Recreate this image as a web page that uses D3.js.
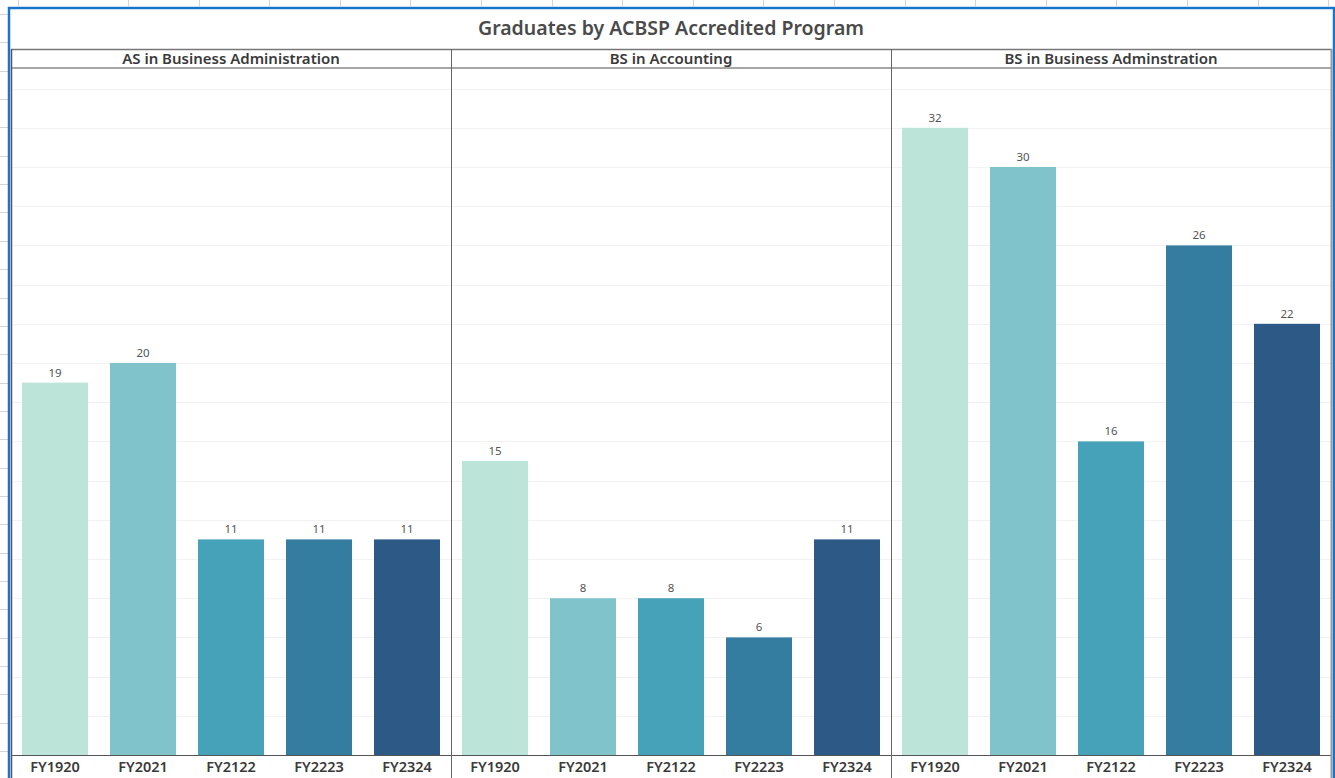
<!DOCTYPE html>
<html>
<head>
<meta charset="utf-8">
<script src="https://cdn.jsdelivr.net/npm/d3@7"></script>
<style>
  body { margin: 0; background: #fff; }
  svg { display: block; }
  text { font-family: "Noto Sans", "Open Sans", sans-serif; }
</style>
</head>
<body>
<script>
// data
var programs = ["AS in Business Administration", "BS in Accounting", "BS in Business Adminstration"];
var years = ["FY1920", "FY2021", "FY2122", "FY2223", "FY2324"];
var asBusiness = [19, 20, 11, 11, 11];
var bsAccounting = [15, 8, 8, 6, 11];
var bsBusiness = [32, 30, 16, 26, 22];
var yearColors = ["#bce4d8", "#81c3cb", "#45a2b9", "#347da0", "#2c5985"];
var gridTicks = [2, 4, 6, 8, 10, 12, 14, 16, 18, 20, 22, 24, 26, 28, 30, 32, 34];

var seriesByProgram = [asBusiness, bsAccounting, bsBusiness];

var W = 1335, H = 778;
var svg = d3.select("body").append("svg")
    .attr("width", W)
    .attr("height", H);

svg.append("rect").attr("width", W).attr("height", H).attr("fill", "#fff");

// spreadsheet bits behind the object frame
var colLines = [18];
for (var cx = 128; cx < W; cx += 70.6) colLines.push(Math.round(cx));
svg.selectAll("line.col").data(colLines).enter().append("line")
    .attr("x1", function(d){ return d + 0.5; })
    .attr("x2", function(d){ return d + 0.5; })
    .attr("y1", 0).attr("y2", 6)
    .attr("stroke", "#d4d4d4");
var rowLines = [];
for (var ry = 14; ry < H; ry += 28.35) rowLines.push(Math.round(ry));
svg.selectAll("line.row").data(rowLines).enter().append("line")
    .attr("x1", 0).attr("x2", 8)
    .attr("y1", function(d){ return d + 0.5; })
    .attr("y2", function(d){ return d + 0.5; })
    .attr("stroke", "#d4d4d4");

// scales
var panelX = d3.scaleBand().domain(programs).range([11, 1331]);
var x = d3.scaleBand().domain(years).range([0, panelX.bandwidth()])
    .paddingInner(0.25).paddingOuter(0.125);
var y = d3.scaleLinear().domain([0, 35]).range([755, 69]);

// gridlines
svg.selectAll("line.grid").data(gridTicks).enter().append("line")
    .attr("x1", 12).attr("x2", 1331)
    .attr("y1", function(d){ return Math.round(y(d)) + 0.5; })
    .attr("y2", function(d){ return Math.round(y(d)) + 0.5; })
    .attr("stroke", "#f2f2f2");

// title
svg.append("text")
    .attr("x", 671).attr("y", 35)
    .attr("text-anchor", "middle")
    .attr("font-size", 19.5)
    .attr("font-weight", 600)
    .attr("fill", "#4a4a4a")
    .text("Graduates by ACBSP Accredited Program");

// panels
programs.forEach(function(p, pi){
    var g = svg.append("g").attr("transform", "translate(" + panelX(p) + ",0)");
    var vals = seriesByProgram[pi];

    g.selectAll("rect")
        .data(years)
        .enter()
        .append("rect")
        .attr("x", function(d){ return x(d); })
        .attr("width", x.bandwidth())
        .attr("y", function(d, i){ return y(vals[i]); })
        .attr("height", function(d, i){ return y(0) - y(vals[i]); })
        .attr("fill", function(d, i){ return yearColors[i]; });

    g.selectAll("text.val")
        .data(years)
        .enter()
        .append("text")
        .attr("class", "val")
        .attr("x", function(d){ return x(d) + x.bandwidth() / 2; })
        .attr("y", function(d, i){ return y(vals[i]) - 6; })
        .attr("text-anchor", "middle")
        .attr("font-size", 11.5)
        .attr("fill", "#555")
        .text(function(d, i){ return vals[i]; });

    var axis = d3.axisBottom(x).tickSize(0).tickPadding(7);
    var ag = g.append("g").attr("transform", "translate(0," + y(0) + ")").call(axis);
    ag.select(".domain").remove();
    ag.selectAll("text")
        .attr("font-family", "Noto Sans, sans-serif")
        .attr("font-size", 14.5)
        .attr("font-weight", 600)
        .attr("fill", "#3a3a3a");

    // header label
    g.append("text")
        .attr("x", panelX.bandwidth() / 2).attr("y", 64)
        .attr("text-anchor", "middle")
        .attr("font-size", 15)
        .attr("font-weight", 600)
        .attr("fill", "#3a3a3a")
        .text(p);
});

// header rules and axis baseline
svg.append("line").attr("x1", 11).attr("x2", 1332).attr("y1", 49.5).attr("y2", 49.5)
    .attr("stroke", "#777").attr("stroke-width", 1.5);
svg.append("line").attr("x1", 11).attr("x2", 1332).attr("y1", 68).attr("y2", 68)
    .attr("stroke", "#888").attr("stroke-width", 1.5);
svg.append("line").attr("x1", 11).attr("x2", 1332).attr("y1", 755.5).attr("y2", 755.5)
    .attr("stroke", "#555");

// panel dividers
svg.selectAll("line.div").data(programs.slice(1)).enter().append("line")
    .attr("x1", function(d){ return Math.round(panelX(d)) + 0.5; })
    .attr("x2", function(d){ return Math.round(panelX(d)) + 0.5; })
    .attr("y1", 49).attr("y2", H)
    .attr("stroke", "#666");
svg.append("line").attr("x1", 11.5).attr("x2", 11.5).attr("y1", 49).attr("y2", H)
    .attr("stroke", "#555").attr("stroke-width", 1.5);
svg.append("line").attr("x1", 1331.5).attr("x2", 1331.5).attr("y1", 49).attr("y2", H)
    .attr("stroke", "#999").attr("stroke-width", 2);

// selected object frame (blue)
svg.append("path")
    .attr("d", "M9,778 V8 H1334 V778")
    .attr("fill", "none")
    .attr("stroke", "#1a74cc")
    .attr("stroke-width", 2.5);
</script>
</body>
</html>
